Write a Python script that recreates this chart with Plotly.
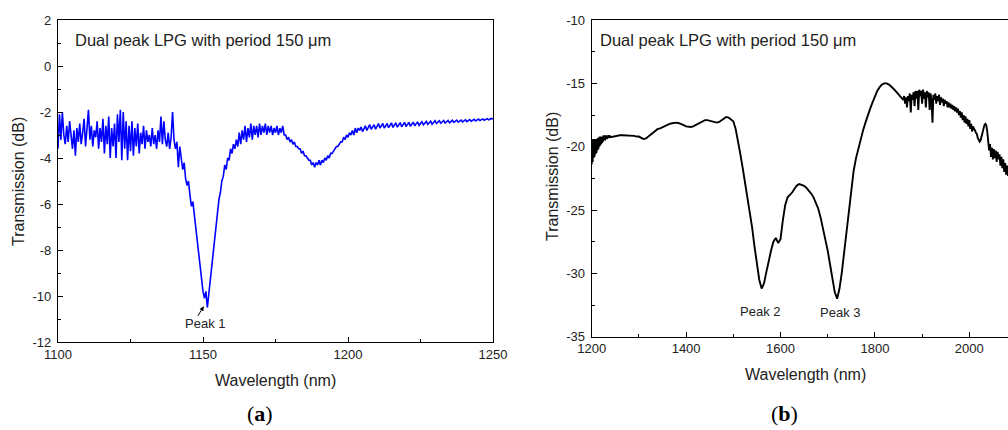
import numpy as np
import plotly.graph_objects as go

# ---------------- Panel (a): 1100-1250 nm, 0.5 nm step ----------------
wl_a_start, wl_a_step = 1100.0, 0.5
trans_a = [
    -3.6, -2.1, -3.2, -2.0, -3.0, -3.4, -2.6, -3.3, -2.4, -3.1,
    -3.6, -2.8, -3.9, -2.7, -3.3, -2.5, -3.4, -2.9, -2.3, -3.5,
    -2.7, -1.9, -3.2, -2.6, -3.5, -2.8, -3.1, -2.4, -3.6, -2.7,
    -3.3, -2.3, -3.8, -2.6, -3.4, -2.2, -4.0, -2.7, -3.5, -2.5,
    -4.0, -2.1, -3.3, -1.9, -4.1, -2.0, -3.6, -2.4, -4.1, -2.6,
    -3.7, -2.4, -3.9, -2.7, -3.5, -2.5, -3.8, -2.9, -3.4, -2.6,
    -3.6, -2.8, -3.3, -3.0, -3.5, -2.7, -3.4, -3.0, -3.6, -2.8,
    -3.3, -2.2, -3.4, -2.4, -3.2, -3.5, -2.9, -3.6, -3.1, -2.0,
    -3.2, -3.6, -3.3, -4.4, -3.5, -3.9, -4.5, -4.2, -4.9, -5.2,
    -5.0, -5.6, -6.1, -5.9, -6.5, -6.8, -7.6, -8.3, -8.9, -9.3,
    -9.8, -10.1, -9.8, -10.5, -9.9, -9.2, -8.7, -7.9, -7.6, -6.9,
    -6.4, -5.8, -5.5, -5.0, -4.8, -4.3, -4.5, -4.0, -4.1, -3.6,
    -3.8, -3.4, -3.6, -3.2, -3.5, -2.9, -3.4, -2.8, -3.2, -2.6,
    -3.3, -2.7, -3.1, -2.5, -3.2, -2.6, -3.0, -2.6, -3.1, -2.5,
    -3.0, -2.6, -2.9, -2.5, -3.0, -2.6, -2.9, -2.6, -3.0, -2.7,
    -2.9, -2.6, -3.0, -2.7, -2.9, -2.6, -3.0, -3.0, -3.2, -3.1,
    -3.3, -3.2, -3.4, -3.3, -3.5, -3.5, -3.6, -3.6, -3.8, -3.7,
    -3.9, -3.9, -4.0, -4.1, -4.1, -4.3, -4.2, -4.4, -4.2, -4.3,
    -4.1, -4.3, -4.1, -4.2, -4.0, -4.1, -3.9, -4.0, -3.8, -3.8,
    -3.7, -3.6, -3.5, -3.5, -3.4, -3.3, -3.3, -3.1, -3.2, -3.0,
    -3.1, -2.9, -3.0, -2.8, -3.0, -2.7, -2.9, -2.7, -2.8, -2.65,
    -2.85, -2.7, -2.6, -2.8, -2.7, -2.55, -2.75, -2.65, -2.55, -2.75,
    -2.65, -2.5, -2.7, -2.6, -2.5, -2.7, -2.6, -2.5, -2.68, -2.58,
    -2.48, -2.67, -2.57, -2.47, -2.66, -2.56, -2.46, -2.64, -2.55, -2.45,
    -2.63, -2.54, -2.45, -2.62, -2.53, -2.44, -2.6, -2.52, -2.43, -2.58,
    -2.5, -2.42, -2.56, -2.48, -2.41, -2.54, -2.47, -2.4, -2.53, -2.46,
    -2.38, -2.5, -2.44, -2.38, -2.49, -2.43, -2.37, -2.48, -2.42, -2.37,
    -2.47, -2.41, -2.36, -2.45, -2.4, -2.35, -2.44, -2.39, -2.35, -2.43,
    -2.38, -2.34, -2.42, -2.37, -2.33, -2.4, -2.36, -2.32, -2.39, -2.35,
    -2.31, -2.37, -2.33, -2.3, -2.36, -2.32, -2.29, -2.34, -2.31, -2.28,
    -2.3,
]
wl_a = wl_a_start + wl_a_step * np.arange(len(trans_a))

# ---------------- Panel (b): three sampled segments ----------------
# segment 1: 1200-1240 nm, 1 nm step (noisy start)
trans_b1 = [
    -21.4, -19.5, -21.2, -19.4, -20.9, -19.5, -20.8, -19.4, -20.6, -19.5,
    -20.5, -19.4, -20.3, -19.3, -20.2, -19.3, -20.0, -19.2, -19.9, -19.3,
    -19.8, -19.2, -19.7, -19.2, -19.6, -19.1, -19.5, -19.1, -19.5, -19.1,
    -19.4, -19.1, -19.4, -19.1, -19.35, -19.1, -19.3, -19.1, -19.3, -19.15,
    -19.25,
]
wl_b1 = 1200.0 + 1.0 * np.arange(len(trans_b1))
# segment 2: 1245-1855 nm, 5 nm step (smooth)
trans_b2 = [
    -19.2, -19.2, -19.15, -19.1, -19.1, -19.1, -19.15, -19.15, -19.15, -19.15,
    -19.2, -19.2, -19.3, -19.4, -19.35, -19.2, -19.0, -18.85, -18.7, -18.6,
    -18.55, -18.45, -18.4, -18.3, -18.2, -18.15, -18.1, -18.1, -18.15, -18.2,
    -18.3, -18.4, -18.45, -18.45, -18.4, -18.3, -18.2, -18.05, -17.95, -17.9,
    -17.9, -17.95, -18.0, -18.05, -18.1, -18.05, -17.9, -17.75, -17.65, -17.7,
    -17.85, -18.0, -18.6, -19.5, -20.6, -21.7, -22.9, -23.9, -25.0, -26.4,
    -27.9, -29.3, -30.5, -31.2, -30.8, -29.9, -29.0, -28.2, -27.5, -27.2,
    -27.6, -27.3, -25.8, -24.6, -24.0, -23.8, -23.6, -23.3, -23.05, -22.95,
    -23.0, -23.1, -23.25, -23.45, -23.7, -24.0, -24.4, -24.9, -25.6, -26.4,
    -27.2, -28.2, -29.3, -30.5, -31.5, -32.0, -31.2, -29.9, -28.3, -26.3,
    -24.6, -23.1, -21.9, -20.9, -20.1, -19.4, -18.7, -18.1, -17.5, -17.0,
    -16.5, -16.0, -15.6, -15.3, -15.1, -15.0, -15.0, -15.1, -15.25, -15.45,
    -15.65, -15.85, -16.05,
]
wl_b2 = 1245.0 + 5.0 * np.arange(len(trans_b2))
# segment 3: 1860-2084 nm, 2 nm step (noisy end)
trans_b3 = [
    -16.3, -16.0, -16.6, -16.1, -16.9, -16.0,
    -16.4, -15.8, -17.3, -15.9, -16.3, -15.7,
    -16.8, -15.6, -16.2, -15.6, -17.1, -15.5,
    -16.0, -15.6, -16.6, -15.5, -16.2, -15.7,
    -16.9, -15.6, -16.1, -15.7, -17.1, -15.8,
    -16.4, -18.1, -15.9, -16.3, -15.8, -16.6,
    -16.0, -16.4, -15.9, -16.7, -16.1, -16.5,
    -16.2, -16.8, -16.3, -16.6, -16.4, -16.9,
    -16.5, -16.9, -16.6, -17.0, -16.7, -17.1,
    -16.8, -17.2, -16.9, -17.3, -17.0, -17.5,
    -17.2, -17.7, -17.3, -17.9, -17.5, -18.1,
    -17.6, -18.2, -17.8, -18.4, -17.9, -18.6,
    -18.2, -18.8, -18.4, -18.6, -18.7, -18.9,
    -19.0, -19.3, -19.5, -19.6, -19.5, -19.2,
    -18.8, -18.5, -18.3, -18.2, -18.3, -18.8,
    -19.4, -20.3, -19.8, -20.8, -20.1, -21.0,
    -20.2, -20.9, -20.3, -21.2, -20.4, -21.0,
    -20.6, -21.5, -20.8, -21.7, -21.0, -22.0,
    -21.3, -22.2, -21.5, -22.3, -21.8,
]
wl_b3 = 1860.0 + 2.0 * np.arange(len(trans_b3))

wl_b = np.concatenate([wl_b1, wl_b2, wl_b3])
trans_b = np.concatenate([trans_b1, trans_b2, trans_b3])

# tick settings (hyphen-minus labels as in the reference)
xticks_a = [1100, 1150, 1200, 1250]
yticks_a = [2, 0, -2, -4, -6, -8, -10, -12]
xticks_b = [1200, 1400, 1600, 1800, 2000]
yticks_b = [-10, -15, -20, -25, -30, -35]

W, H = 1008, 430
def px(x):
    return x / W
def py(y):
    return 1 - y / H

FONT = "Liberation Sans, Arial, sans-serif"

fig = go.Figure()
fig.add_trace(go.Scatter(x=wl_a, y=trans_a, mode="lines",
                         line=dict(color="#0000ff", width=1.6),
                         xaxis="x", yaxis="y", showlegend=False))
fig.add_trace(go.Scatter(x=wl_b, y=trans_b, mode="lines",
                         line=dict(color="black", width=1.9),
                         xaxis="x2", yaxis="y2", showlegend=False))

axis_common = dict(showgrid=False, zeroline=False, showline=True,
                   linecolor="black", linewidth=1.3, ticks="inside",
                   ticklen=5, tickwidth=1, tickcolor="black",
                   tickfont=dict(family=FONT, size=13, color="#222"),
                   automargin=False)

fig.update_layout(
    width=W, height=H,
    margin=dict(l=0, r=0, t=0, b=0),
    paper_bgcolor="white", plot_bgcolor="white",
    xaxis=dict(domain=[px(58), px(493)], range=[1100, 1250],
               tickvals=xticks_a, ticktext=[str(v) for v in xticks_a],
               mirror=True, anchor="y",
               minor=dict(dtick=25, tick0=1100, ticks="inside", ticklen=3, tickcolor="black"),
               **axis_common),
    yaxis=dict(domain=[py(342), py(20)], range=[-12, 2],
               tickvals=yticks_a, ticktext=[str(v) for v in yticks_a],
               mirror=True, anchor="x", ticklabelstandoff=3,
               minor=dict(dtick=1, tick0=-12, ticks="inside", ticklen=3, tickcolor="black"),
               **axis_common),
    xaxis2=dict(domain=[px(591.7), 1.0], range=[1200, 2082],
                tickvals=xticks_b, ticktext=[str(v) for v in xticks_b],
                mirror=True, anchor="y2",
                minor=dict(dtick=100, tick0=1200, ticks="inside", ticklen=3, tickcolor="black"),
                **axis_common),
    yaxis2=dict(domain=[py(336.7), py(20)], range=[-35, -10],
                tickvals=yticks_b, ticktext=[str(v) for v in yticks_b],
                mirror=False, anchor="x2", ticklabelstandoff=3,
                minor=dict(dtick=2.5, tick0=-35, ticks="inside", ticklen=3, tickcolor="black"),
                **axis_common),
)

def txt(x, y, s, size=13, xanchor="center", angle=0, family=FONT, color="#222"):
    fig.add_annotation(x=px(x), y=py(y), xref="paper", yref="paper", text=s,
                       showarrow=False, xanchor=xanchor, yanchor="middle",
                       textangle=angle, font=dict(family=family, size=size, color=color))

# panel texts
txt(73, 40, "Dual peak LPG with period 150 μm", size=16.5, xanchor="left")
txt(598, 40, "Dual peak LPG with period 150 μm", size=16.5, xanchor="left")
txt(275, 380, "Wavelength (nm)", size=16)
txt(805, 374, "Wavelength (nm)", size=16)
txt(19, 182, "Transmission (dB)", size=16, angle=-90)
txt(553, 177, "Transmission (dB)", size=16, angle=-90)
txt(205, 323, "Peak 1", size=13)
txt(760, 311, "Peak 2", size=13)
txt(840, 312, "Peak 3", size=13)
txt(260, 413, "(<b>a</b>)", size=22, family="Liberation Serif, Times New Roman, serif", color="black")
txt(784, 413, "(<b>b</b>)", size=22, family="Liberation Serif, Times New Roman, serif", color="black")

# arrow to Peak 1
fig.add_annotation(x=1150.3, y=-10.45, xref="x", yref="y", text="",
                   showarrow=True, ax=-7, ay=11, arrowhead=2, arrowsize=0.9,
                   arrowwidth=1, arrowcolor="black")

fig.write_html("out.html",
               config={"displayModeBar": False},
               post_script="document.body.style.margin='0px';document.body.style.overflow='hidden';")
